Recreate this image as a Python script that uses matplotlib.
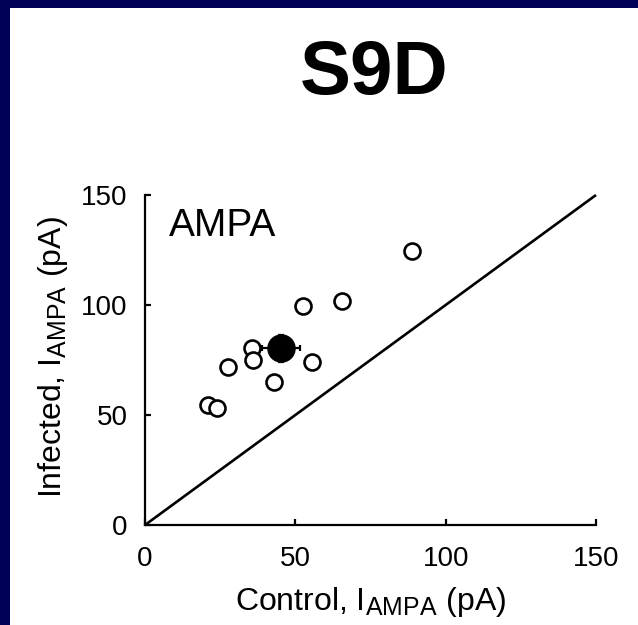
import matplotlib
matplotlib.use("Agg")
import matplotlib.pyplot as plt

try:
    import matplotlib._mathtext as _mt
    _mt.SHRINK_FACTOR = 0.78
except Exception:
    pass

plt.rcParams['font.family'] = ['Liberation Sans', 'DejaVu Sans']
plt.rcParams['mathtext.fontset'] = 'custom'
plt.rcParams['mathtext.rm'] = 'Liberation Sans'
plt.rcParams['mathtext.it'] = 'Liberation Sans:italic'
plt.rcParams['mathtext.bf'] = 'Liberation Sans:bold'

# Data (pA)
control = [88.7, 65.4, 52.6, 35.5, 35.8, 27.5, 55.4, 43.0, 21.1, 24.0]
infected = [124.7, 102.0, 99.7, 80.3, 75.0, 72.0, 74.2, 65.1, 54.5, 53.3]
mean_control = 45.2
mean_infected = 80.3
sem_control = 6.3
sem_infected = 6.0
unity = [0, 150]
ticks = [0, 50, 100, 150]

W, H = 638, 625
fig = plt.figure(figsize=(W / 100, H / 100), dpi=100)
fig.patch.set_facecolor('#000055')

bg = fig.add_axes([10 / W, 0, 1 - 10 / W, 1 - 8 / H], zorder=-10)
bg.set_facecolor('white')
bg.set_xticks([])
bg.set_yticks([])
for s in bg.spines.values():
    s.set_visible(False)

ax = fig.add_axes([145 / W, 1 - 525 / H, 451 / W, 330 / H], zorder=1)
ax.set_facecolor('none')

ax.plot(unity, unity, color='black', lw=1.9, solid_capstyle='butt', zorder=2, clip_on=False)
ax.plot(control, infected, 'o', ms=11.5, mfc='white', mec='black', mew=1.9, zorder=3, clip_on=False)
ax.errorbar([mean_control], [mean_infected], xerr=[sem_control], yerr=[sem_infected],
            fmt='o', ms=19.5, mfc='black', mec='black', ecolor='black', elinewidth=1.6,
            capsize=2.5, capthick=1.6, zorder=4)

ax.set_xlim(0, 150)
ax.set_ylim(0, 150)
ax.set_xticks(ticks)
ax.set_yticks(ticks)
for s in ['top', 'right']:
    ax.spines[s].set_visible(False)
for s in ['left', 'bottom']:
    ax.spines[s].set_linewidth(1.6)
ax.tick_params(axis='both', direction='in', length=4, width=1.6, labelsize=20)
ax.tick_params(axis='x', pad=15)
ax.tick_params(axis='y', pad=12.5)

ax.set_xlabel(r'Control, I$_{\mathrm{AMPA}}$ (pA)', fontsize=23)
ax.set_ylabel(r'Infected, I$_{\mathrm{AMPA}}$ (pA)', fontsize=23)
ax.xaxis.set_label_coords(0.5, -0.182)
ax.yaxis.set_label_coords(-0.167, 0.51)

ax.text(8.0, 131.4, 'AMPA', fontsize=28, va='baseline', ha='left')

fig.text(374 / W, 1 - 94 / H, 'S9D', fontsize=55, fontweight='bold',
         ha='center', va='baseline')

fig.savefig('out.png', dpi=100, facecolor=fig.get_facecolor())
